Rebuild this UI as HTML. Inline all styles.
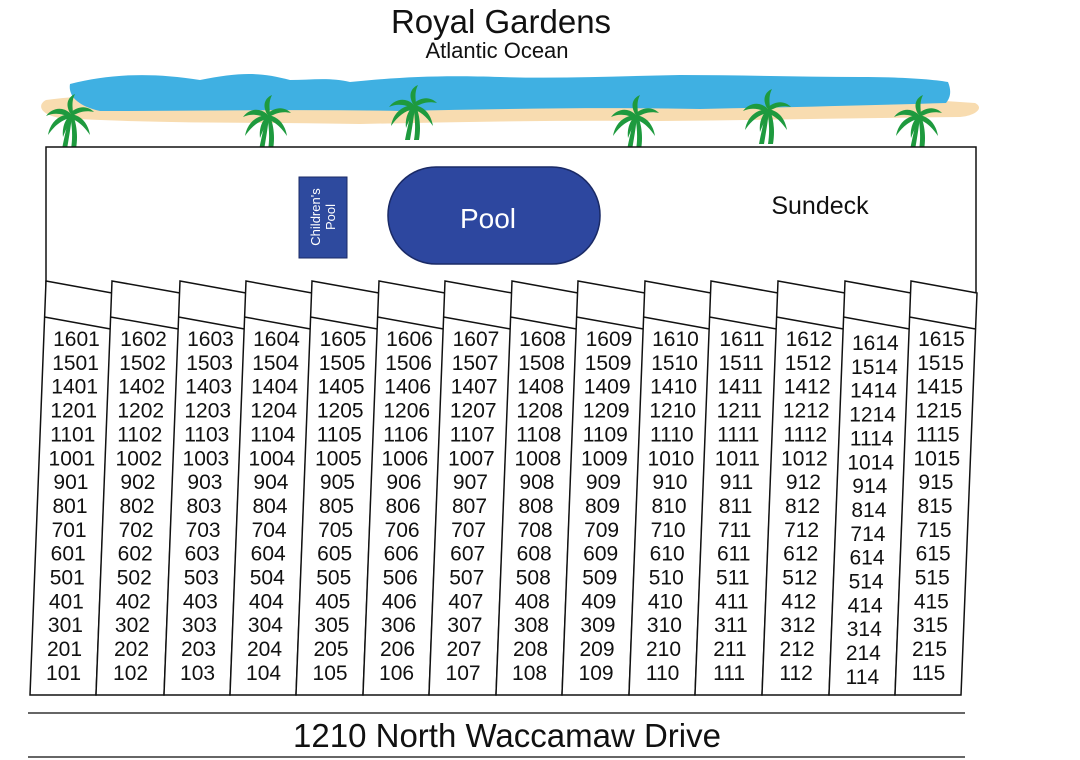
<!DOCTYPE html>
<html><head><meta charset="utf-8"><style>
html,body{margin:0;padding:0;background:#fff;}
svg{display:block;font-family:"Liberation Sans",Arial,sans-serif;}
</style></head><body>
<svg width="1080" height="760" viewBox="0 0 1080 760" xmlns="http://www.w3.org/2000/svg">
<defs>
<g id="palm" fill="#1e9a3e">
<path d="M-1,2 C-3,14 -6,25 -8,36 L-3,36 C-1,24 1,13 2,2 Z"/>
<path d="M1,36 C3,24 2,12 0,2 L3,2 C7,12 8,24 6,36 Z"/>
<path d="M0,0 C-8,-7 -18,-5 -24,3 C-15,-1 -8,1 0,4 Z"/>
<path d="M0,1 C-12,2 -20,10 -22,22 C-15,12 -8,7 0,5 Z"/>
<path d="M0,0 C-5,-9 -2,-16 5,-19 C1,-11 3,-5 3,1 Z"/>
<path d="M0,0 C9,-8 18,-7 24,-1 C15,-3 8,-1 1,4 Z"/>
<path d="M0,1 C11,2 18,10 20,22 C13,12 7,7 -1,5 Z"/>
<path d="M0,2 C-6,8 -8,16 -7,24 C-4,16 -1,10 2,5 Z"/>
</g>
</defs>
<text x="501" y="33" font-size="33" text-anchor="middle" fill="#111">Royal Gardens</text>
<text x="497" y="58" font-size="22" text-anchor="middle" fill="#111">Atlantic Ocean</text>
<path d="M46,100 C100,92 200,98 300,96 C400,94 500,100 600,98 C700,96 800,100 900,98 L975,103 C985,108 975,116 960,117 C860,118 760,120 660,121 C560,120 460,122 360,124 C260,122 160,124 60,118 C38,114 38,104 46,100 Z" fill="#f8dcb0"/>
<path d="M70,84 C110,74 150,72 200,80 C240,72 260,72 290,80 C310,80 330,77 350,82 C400,77 440,75 500,77 C560,79 620,76 680,75 C740,75 800,77 860,77 C900,77 930,79 948,82 C952,92 950,98 946,103 C880,105 800,107 700,109 C600,107 500,109 400,111 C300,109 200,111 100,111 C78,106 68,96 70,84 Z" fill="#3fb0e2"/>
<use href="#palm" x="70" y="113"/>
<use href="#palm" x="267" y="114"/>
<use href="#palm" x="413" y="104"/>
<use href="#palm" x="635" y="114"/>
<use href="#palm" x="767" y="108"/>
<use href="#palm" x="918" y="114"/>
<rect x="46" y="147" width="930" height="146" fill="#fff" stroke="#111" stroke-width="1.5"/>
<rect x="299" y="177" width="48" height="81" fill="#2e4a9e" stroke="#1a2a66" stroke-width="1"/>
<text transform="translate(323,217) rotate(-90)" font-size="13" fill="#fff" text-anchor="middle"><tspan x="0" dy="-3">Children's</tspan><tspan x="0" dy="15">Pool</tspan></text>
<rect x="388" y="167" width="212" height="97" rx="48" fill="#2d479f" stroke="#1a2a66" stroke-width="1.5"/>
<text x="488" y="228" font-size="28" text-anchor="middle" fill="#fff">Pool</text>
<text x="820" y="214" font-size="25" text-anchor="middle" fill="#111">Sundeck</text>
<g id="cols" stroke="#111" stroke-width="1.5" fill="#fff"></g>
<g id="nums" font-size="21" fill="#111" text-anchor="middle"></g>
<line x1="28" y1="713" x2="965" y2="713" stroke="#333" stroke-width="1.5"/>
<line x1="28" y1="757" x2="965" y2="757" stroke="#333" stroke-width="1.5"/>
<text x="507" y="747" font-size="33" text-anchor="middle" fill="#111">1210 North Waccamaw Drive</text>
</svg>
<script>
var ns="http://www.w3.org/2000/svg";
var tops=[46,112,180,246,312,379,445,512,578,645,711,778,845,911,977];
var ids=["01","02","03","04","05","06","07","08","09","10","11","12","14","15"];
var floors=[16,15,14,12,11,10,9,8,7,6,5,4,3,2,1];
var cols=document.getElementById("cols"),nums=document.getElementById("nums");
for(var i=0;i<14;i++){
 var a=tops[i],b=tops[i+1],ab=a-16,bb=b-16;
 var p=document.createElementNS(ns,"polygon");
 p.setAttribute("points",a+",281 "+b+",293 "+bb+",695 "+ab+",695");
 cols.appendChild(p);
 var l=document.createElementNS(ns,"line");
 l.setAttribute("x1",a-1.5);l.setAttribute("y1",317);l.setAttribute("x2",b-1.5);l.setAttribute("y2",329);
 cols.appendChild(l);
 var off=(i==12)?4:0;
 for(var r=0;r<15;r++){
  var y=346+r*23.85+off;
  var f=(y-281)/414;
  var cx=(a+b)/2-16*f;
  var t=document.createElementNS(ns,"text");
  t.setAttribute("x",cx);t.setAttribute("y",y);
  t.textContent=floors[r]+ids[i];
  nums.appendChild(t);
 }
}
</script>
</body></html>
